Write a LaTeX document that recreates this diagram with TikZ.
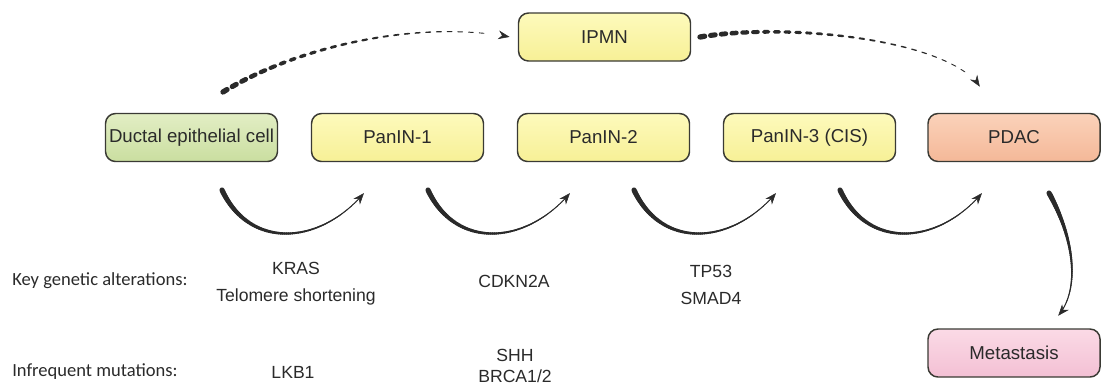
\documentclass[tikz,border=0pt]{standalone}
\usepackage{fontspec}
\setmainfont{Liberation Sans}
\newfontfamily\carlito{Carlito}
\usepackage{tikz}
\usetikzlibrary{decorations.markings,arrows.meta}

\definecolor{ink}{RGB}{42,42,42}
\definecolor{edge}{RGB}{58,58,52}
\definecolor{greenT}{RGB}{226,238,196}
\definecolor{greenB}{RGB}{202,222,160}
\definecolor{yellowT}{RGB}{253,250,188}
\definecolor{yellowB}{RGB}{247,240,150}
\definecolor{peachT}{RGB}{251,210,186}
\definecolor{peachB}{RGB}{244,184,152}
\definecolor{pinkT}{RGB}{251,218,230}
\definecolor{pinkB}{RGB}{243,192,212}

\tikzset{
  box/.style={draw=edge, line width=1.1pt, rounded corners=7.5pt,
    minimum width=129pt, minimum height=36pt, inner sep=0pt,
    text=ink, font=\fontsize{14}{16}\selectfont},
  gene/.style={align=center, text=ink, inner sep=0pt,
    font=\fontsize{13.2}{20.25}\selectfont},
  side/.style={anchor=west, text=ink, inner sep=0pt,
    font=\carlito\fontsize{13.9}{16}\selectfont},
  taper/.style n args={4}{postaction={decorate}, decoration={markings,
    mark=between positions 0 and #4 step #2 with {
      \pgfmathsetmacro{\tf}{\pgfkeysvalueof{/pgf/decoration/mark info/distance from start}/\pgfdecoratedpathlength}
      \pgfmathsetmacro{\tw}{0.6+(#1-0.6)*(1-\tf)^1.7}
      \draw[ink, line width=\tw pt, line cap=round] (0pt,0pt) -- (#3,0pt);},
    mark=at position 0.998 with {\arrow[ink]{Stealth[length=8.5pt,width=6.5pt]}}}},
  solidarc/.style={taper={3.8}{1.5pt}{2pt}{0.95}},
  dasharc/.style={taper={4}{8pt}{3.5pt}{0.93}},
}

\begin{document}
\begin{tikzpicture}[x=0.75pt,y=0.75pt,yscale=-1,xscale=1]
\useasboundingbox (0,0) rectangle (1102,387);

%Shape: Rounded Rect [id:ductal]
\node[box, top color=greenT, bottom color=greenB] (ductal) at (191.5,137.5) {Ductal epithelial cell};
%Shape: Rounded Rect [id:panin1]
\node[box, top color=yellowT, bottom color=yellowB] (panin1) at (397.5,137.5) {PanIN-1};
%Shape: Rounded Rect [id:panin2]
\node[box, top color=yellowT, bottom color=yellowB] (panin2) at (603.5,137.5) {PanIN-2};
%Shape: Rounded Rect [id:panin3]
\node[box, top color=yellowT, bottom color=yellowB] (panin3) at (809.5,137.5) {PanIN-3 (CIS)};
%Shape: Rounded Rect [id:pdac]
\node[box, top color=peachT, bottom color=peachB] (pdac) at (1014,137.5) {PDAC};
%Shape: Rounded Rect [id:ipmn]
\node[box, top color=yellowT, bottom color=yellowB] (ipmn) at (604.5,37) {IPMN};
%Shape: Rounded Rect [id:meta]
\node[box, top color=pinkT, bottom color=pinkB] (meta) at (1014,353) {Metastasis};

%Curve Lines [id:dash1]
\coordinate (dd1) at (223,92);
\coordinate (dd2) at (510,37);
\path[dasharc] (dd1) .. controls (300,45) and (420,20) .. (dd2);
%Curve Lines [id:dash2]
\coordinate (dd3) at (700,37);
\coordinate (dd4) at (980,87);
\path[dasharc] (dd3) .. controls (790,22) and (950,40) .. (dd4);

%Curve Lines [id:arc1]
\coordinate (ca1) at (222,190);
\coordinate (cb1) at (364,193);
\path[solidarc] (ca1) .. controls (250,250) and (320,245) .. (cb1);
%Curve Lines [id:arc2]
\coordinate (ca2) at (428,190);
\coordinate (cb2) at (570,193);
\path[solidarc] (ca2) .. controls (456,250) and (526,245) .. (cb2);
%Curve Lines [id:arc3]
\coordinate (ca3) at (634,190);
\coordinate (cb3) at (776,193);
\path[solidarc] (ca3) .. controls (662,250) and (732,245) .. (cb3);
%Curve Lines [id:arc4]
\coordinate (ca4) at (840,190);
\coordinate (cb4) at (982,193);
\path[solidarc] (ca4) .. controls (868,250) and (938,245) .. (cb4);
%Curve Lines [id:arc5]
\coordinate (cm1) at (1049,193);
\coordinate (cm2) at (1058,316);
\path[solidarc] (cm1) .. controls (1075,240) and (1080,290) .. (cm2);

% Text Node
\node[side] (keylbl) at (12,281) {Key genetic alterations:};
% Text Node
\node[side] (inflbl) at (12,372) {Infrequent mutations:};
% Text Node
\node[gene] (kras) at (296,283.5) {KRAS\\Telomere shortening};
% Text Node
\node[gene] (cdkn) at (514,281) {CDKN2A};
% Text Node
\node[gene] (tp53) at (711,284.5) {TP53\\SMAD4};
% Text Node
\node[gene] (lkb) at (293,372) {LKB1};
% Text Node
\node[gene, font=\fontsize{13.2}{16}\selectfont] (shh) at (515,366) {SHH\\BRCA1/2};

\end{tikzpicture}
\end{document}
